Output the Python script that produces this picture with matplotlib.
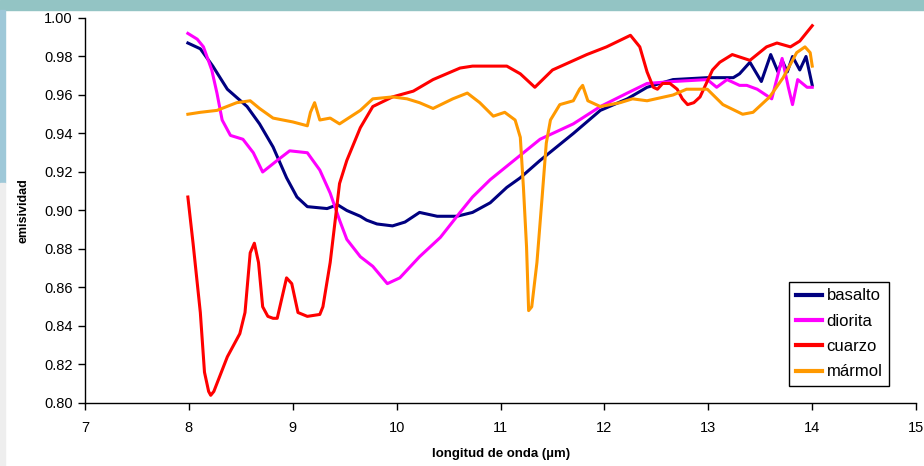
"""Emisividad espectral de cuatro rocas (basalto, diorita, cuarzo, mármol)."""

import matplotlib
matplotlib.use("Agg")
import matplotlib.pyplot as plt
from matplotlib.patches import Rectangle

plt.rcParams.update({
    "font.family": ["Liberation Sans", "DejaVu Sans"],
    "font.size": 10,
    "axes.linewidth": 1.0,
})

# wavelength (um) / emissivity pairs
basalto_x = [7.99, 8.11, 8.23, 8.37, 8.56, 8.68, 8.81, 8.94, 9.04, 9.14, 9.33,
             9.43, 9.52, 9.65, 9.71, 9.81, 9.96, 10.08, 10.22, 10.39, 10.58,
             10.73, 10.9, 11.06, 11.19, 11.38, 11.70, 11.96, 12.22, 12.41,
             12.66, 12.99, 13.24, 13.30, 13.40, 13.51, 13.60, 13.67, 13.71,
             13.76, 13.81, 13.88, 13.94, 14.0]
basalto_y = [0.987, 0.984, 0.975, 0.963, 0.954, 0.945, 0.933, 0.917, 0.907,
             0.902, 0.901, 0.903, 0.900, 0.897, 0.895, 0.893, 0.892, 0.894,
             0.899, 0.897, 0.897, 0.899, 0.904, 0.912, 0.917, 0.926, 0.940,
             0.952, 0.958, 0.964, 0.968, 0.969, 0.969, 0.971, 0.977, 0.967,
             0.981, 0.972, 0.978, 0.972, 0.980, 0.973, 0.980, 0.965]

diorita_x = [7.99, 8.08, 8.14, 8.22, 8.27, 8.32, 8.40, 8.52, 8.62, 8.71, 8.85,
             8.97, 9.14, 9.26, 9.36, 9.45, 9.52, 9.65, 9.77, 9.91, 10.03,
             10.22, 10.42, 10.61, 10.73, 10.9, 11.06, 11.38, 11.70, 11.96,
             12.22, 12.41, 12.66, 12.99, 13.08, 13.18, 13.30, 13.37, 13.47,
             13.61, 13.71, 13.77, 13.81, 13.86, 13.95, 14.0]
diorita_y = [0.992, 0.989, 0.985, 0.973, 0.961, 0.947, 0.939, 0.937, 0.930,
             0.920, 0.926, 0.931, 0.930, 0.921, 0.909, 0.895, 0.885, 0.876,
             0.871, 0.862, 0.865, 0.876, 0.886, 0.899, 0.907, 0.916, 0.923,
             0.937, 0.945, 0.954, 0.961, 0.966, 0.967, 0.968, 0.964, 0.968,
             0.965, 0.965, 0.963, 0.958, 0.979, 0.964, 0.955, 0.968, 0.964,
             0.964]

cuarzo_x = [7.99, 8.04, 8.11, 8.15, 8.19, 8.21, 8.24, 8.37, 8.49, 8.54, 8.59,
            8.63, 8.67, 8.71, 8.76, 8.81, 8.85, 8.94, 8.99, 9.05, 9.14, 9.26,
            9.29, 9.36, 9.45, 9.52, 9.65, 9.77, 9.96, 10.16, 10.35, 10.61,
            10.73, 11.06, 11.19, 11.33, 11.50, 11.83, 12.02, 12.25, 12.34,
            12.41, 12.47, 12.51, 12.56, 12.63, 12.70, 12.75, 12.80, 12.86,
            12.92, 13.04, 13.11, 13.23, 13.40, 13.56, 13.66, 13.79, 13.88,
            14.0]
cuarzo_y = [0.907, 0.883, 0.847, 0.816, 0.806, 0.804, 0.806, 0.824, 0.836,
            0.847, 0.878, 0.883, 0.873, 0.850, 0.845, 0.844, 0.844, 0.865,
            0.862, 0.847, 0.845, 0.846, 0.850, 0.873, 0.914, 0.926, 0.943,
            0.954, 0.959, 0.962, 0.968, 0.974, 0.975, 0.975, 0.971, 0.964,
            0.973, 0.981, 0.985, 0.991, 0.985, 0.972, 0.964, 0.963, 0.966,
            0.966, 0.963, 0.958, 0.955, 0.956, 0.959, 0.973, 0.977, 0.981,
            0.978, 0.985, 0.987, 0.985, 0.988, 0.996]

marmol_x = [7.99, 8.11, 8.27, 8.46, 8.59, 8.68, 8.81, 9.0, 9.14, 9.17, 9.21,
            9.26, 9.36, 9.45, 9.65, 9.77, 9.96, 10.1, 10.22, 10.35, 10.54,
            10.68, 10.80, 10.93, 11.04, 11.14, 11.19, 11.22, 11.25, 11.27,
            11.30, 11.35, 11.40, 11.44, 11.48, 11.57, 11.70, 11.76, 11.79,
            11.84, 11.96, 12.15, 12.27, 12.41, 12.66, 12.79, 12.99, 13.14,
            13.33, 13.43, 13.59, 13.72, 13.85, 13.93, 13.98, 14.0]
marmol_y = [0.950, 0.951, 0.952, 0.956, 0.957, 0.953, 0.948, 0.946, 0.944,
            0.951, 0.956, 0.947, 0.948, 0.945, 0.952, 0.958, 0.959, 0.958,
            0.956, 0.953, 0.958, 0.961, 0.956, 0.949, 0.951, 0.947, 0.938,
            0.912, 0.881, 0.848, 0.850, 0.873, 0.907, 0.935, 0.947, 0.955,
            0.957, 0.963, 0.965, 0.957, 0.954, 0.956, 0.958, 0.957, 0.960,
            0.963, 0.963, 0.955, 0.950, 0.951, 0.959, 0.969, 0.982, 0.985,
            0.982, 0.975]

series = [
    ("basalto", basalto_x, basalto_y, "#000080"),
    ("diorita", diorita_x, diorita_y, "#ff00ff"),
    ("cuarzo", cuarzo_x, cuarzo_y, "#ff0000"),
    ("mármol", marmol_x, marmol_y, "#ff9900"),
]

fig = plt.figure(figsize=(9.24, 4.66), dpi=100)

# slide decoration around the chart
fig.patches.append(Rectangle((0, 0.978), 1, 0.022, transform=fig.transFigure,
                             color="#93c4c4", zorder=-1))
fig.patches.append(Rectangle((0, 0.607), 0.005, 0.371, transform=fig.transFigure,
                             color="#9ec8d8", zorder=-1))
fig.patches.append(Rectangle((0, 0), 0.005, 0.607, transform=fig.transFigure,
                             color="#eeeeee", zorder=-1))

ax = fig.add_axes([0.092, 0.1352, 0.8995, 0.8262])
for name, xs, ys, col in series:
    ax.plot(xs, ys, color=col, lw=2.2, label=name, solid_joinstyle="round")

ax.set_xlim(7, 15)
ax.set_ylim(0.80, 1.00)
ax.set_xticks(range(7, 16))
ax.set_yticks([0.80 + 0.02 * i for i in range(11)])
ax.yaxis.set_major_formatter(matplotlib.ticker.FormatStrFormatter("%.2f"))
ax.tick_params(direction="out", length=5, width=1, pad=4, labelsize=10.5)
ax.tick_params(axis="x", pad=8)
for s in ("top", "right"):
    ax.spines[s].set_visible(False)

ax.set_xlabel("longitud de onda (µm)", fontsize=9.5, fontweight="bold", labelpad=9)
ax.set_ylabel("emisividad", fontsize=9, fontweight="bold", labelpad=10)

leg = ax.legend(loc="lower right", bbox_to_anchor=(0.9675, 0.044),
                borderaxespad=0, fontsize=12, handlelength=1.6,
                handletextpad=0.25, labelspacing=0.62, borderpad=0.4,
                fancybox=False, framealpha=1, edgecolor="black")
leg.get_frame().set_linewidth(1.0)
for line in leg.get_lines():
    line.set_linewidth(3)

fig.savefig("out.png", dpi=100)
